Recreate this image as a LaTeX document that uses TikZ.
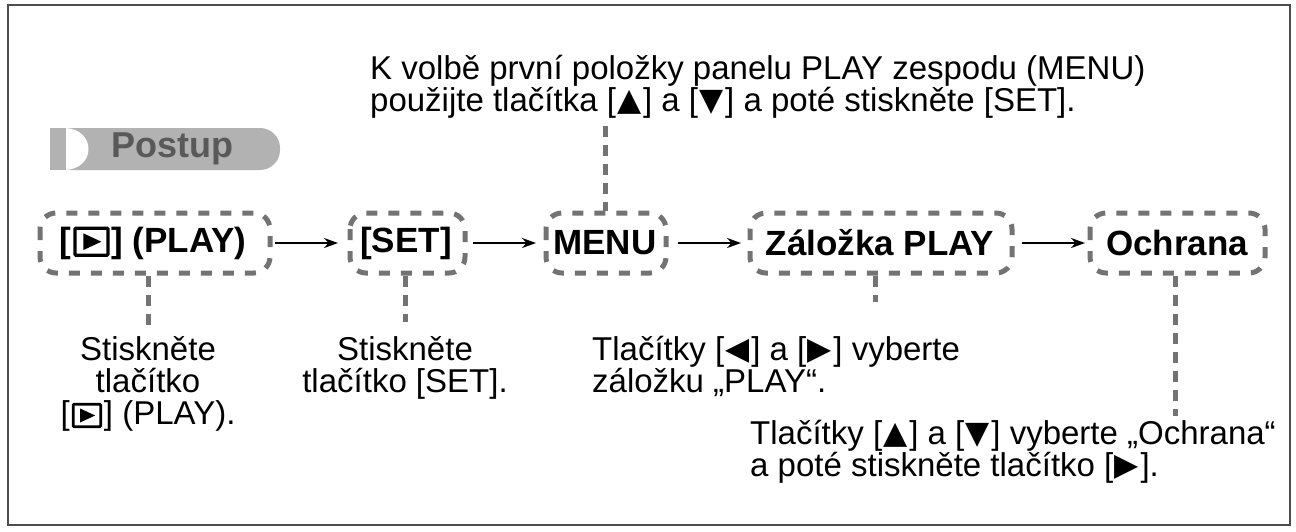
\documentclass[tikz,border=0pt]{standalone}
\usepackage{fontspec}
\setmainfont{Liberation Sans}
\newfontfamily\symf{DejaVu Sans}
\usetikzlibrary{arrows.meta}
\newcommand{\tri}[1]{\kern1.5pt{\symf\raisebox{0.03em}{\scalebox{0.95}{#1}}}\kern1.5pt}
\newcommand{\playicon}[1]{\kern2pt\tikz[baseline=0pt,x=1pt,y=1pt]{\draw[line width=#1*0.11, rounded corners=1pt] (0,-0.1*#1) rectangle (1.1*#1,0.8*#1);\fill (0.28*#1,0.07*#1) -- (0.88*#1,0.35*#1) -- (0.28*#1,0.63*#1) -- cycle;}\kern2pt}
\begin{document}
\begin{tikzpicture}[x=1pt,y=-1pt,
  txt/.style={font=\fontsize{33}{32}\selectfont, inner sep=0pt},
  stp/.style={font=\fontsize{35}{36}\selectfont\bfseries, inner sep=0pt},
  dbox/.style={draw=black!55, line width=5pt, dash pattern=on 11pt off 11pt, rounded corners=16pt},
  dline/.style={draw=black!55, line width=5pt, dash pattern=on 11pt off 8pt},
  arr/.style={-{Stealth[length=14pt,width=10pt]}, line width=2pt}]
\useasboundingbox (0,0) rectangle (1296,531);
\draw[line width=2pt, black!70] (8,5) rectangle (1290,525);
% Postup tab
\fill[black!30, rounded corners=20pt] (50,128) -- (280,128) -- (280,170) -- (50,170) [sharp corners] -- cycle;
\fill[black!30] (50,128) rectangle (120,170);
\fill[white] (66,128) .. controls (96,130) and (96,168) .. (66,170) -- cycle;
\node[font=\fontsize{36}{36}\selectfont\bfseries, text=black!65, inner sep=0pt] (postup) at (172,149) {Postup};
% top text
\node[txt, align=left, anchor=north west] (top) at (370,55) {K volbě první položky panelu PLAY zespodu (MENU)\\použijte tlačítka [\tri{▲}] a [\tri{▼}] a poté stiskněte [SET].};
% steps
\node[stp] (play) at (153,243) {[\playicon{30}] (PLAY)};
\node[stp] (set) at (406,243) {[SET]};
\node[stp] (menu) at (605,243) {MENU};
\node[stp] (zal) at (880,243) {Záložka PLAY};
\node[stp] (och) at (1177,243) {Ochrana};
\draw[dbox] (40,213) rectangle (270,273);
\draw[dbox] (350,213) rectangle (465,273);
\draw[dbox] (546,213) rectangle (666,273);
\draw[dbox] (750,213) rectangle (1012,273);
\draw[dbox] (1090,213) rectangle (1265,273);
\draw[arr] (275,243) -- (338,243);
\draw[arr] (473,243) -- (536,243);
\draw[arr] (678,243) -- (741,243);
\draw[arr] (1022,243) -- (1085,243);
% callout texts
\node[txt, align=center, anchor=north] (t1) at (148,336) {Stiskněte\\tlačítko\\{}[\playicon{25}] (PLAY).};
\node[txt, align=center, anchor=north] (t2) at (405,336) {Stiskněte\\tlačítko [SET].};
\node[txt, align=left, anchor=north west] (t3) at (592,336) {Tlačítky [\tri{◀}] a [\tri{▶}] vyberte\\záložku „PLAY“.};
\node[txt, align=left, anchor=north west] (t4) at (750,420) {Tlačítky [\tri{▲}] a [\tri{▼}] vyberte „Ochrana“\\a poté stiskněte tlačítko [\tri{▶}].};
% leader lines
\coordinate (m1) at (605,126); \coordinate (m2) at (605,211);
\draw[dline] (m1) -- (m2);
\coordinate (p1) at (148,276); \coordinate (p2) at (148,332);
\draw[dline] (p1) -- (p2);
\coordinate (s1) at (405,276); \coordinate (s2) at (405,322);
\draw[dline] (s1) -- (s2);
\coordinate (z1) at (875,276); \coordinate (z2) at (875,302);
\draw[dline] (z1) -- (z2);
\coordinate (o1) at (1175,276); \coordinate (o2) at (1175,416);
\draw[dline] (o1) -- (o2);
\end{tikzpicture}
\end{document}
